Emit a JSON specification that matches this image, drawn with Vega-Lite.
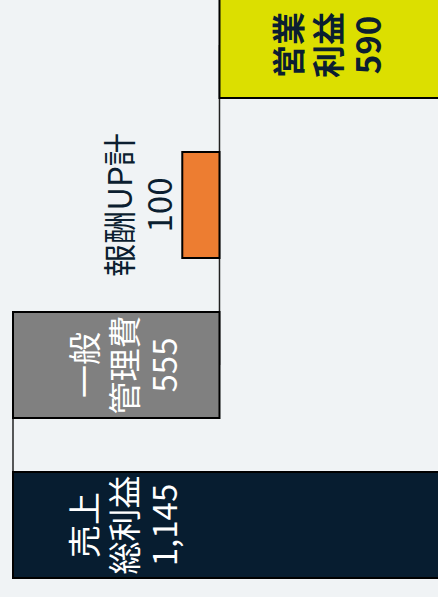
{
  "$schema": "https://vega.github.io/schema/vega-lite/v6.json",
  "width": 438,
  "height": 597,
  "padding": 0,
  "autosize": {"type": "none"},
  "background": "#f0f3f5",
  "config": {"view": {"stroke": null}},
  "datasets": {
    "steps": [
      {"item": "営業利益", "start": 0, "end": 590, "label": "営業\n利益\n590", "labelAt": 303},
      {"item": "報酬UP計", "start": 590, "end": 690, "label": "報酬UP計\n100", "labelAt": 808},
      {"item": "一般管理費", "start": 590, "end": 1145, "label": "一般\n管理費\n555", "labelAt": 851},
      {"item": "売上総利益", "start": 0, "end": 1145, "label": "売上\n総利益\n1,145", "labelAt": 851}
    ],
    "links": [
      {"at": 1145, "from": "一般管理費", "to": "売上総利益"},
      {"at": 590, "from": "営業利益", "to": "一般管理費"}
    ]
  },
  "layer": [
    {
      "data": {"name": "links"},
      "mark": {"type": "rule", "color": "#222222", "strokeWidth": 1.5},
      "encoding": {
        "x": {"field": "at", "type": "quantitative", "axis": null,
              "scale": {"domain": [0, 1145], "range": [439, 13], "nice": false, "zero": false}},
        "y": {"field": "from", "type": "nominal", "axis": null,
              "scale": {"domain": ["営業利益", "報酬UP計", "一般管理費", "売上総利益"], "range": [-35, 605], "paddingInner": 0.3375, "paddingOuter": 0.16875}},
        "y2": {"field": "to"}
      }
    },
    {
      "data": {"name": "steps"},
      "mark": {"type": "bar", "stroke": "#000000", "strokeWidth": 2},
      "encoding": {
        "x": {"field": "start", "type": "quantitative", "axis": null},
        "x2": {"field": "end"},
        "y": {"field": "item", "type": "nominal", "axis": null},
        "color": {"field": "item", "type": "nominal", "legend": null,
                  "scale": {"domain": ["営業利益", "報酬UP計", "一般管理費", "売上総利益"], "range": ["#dcdf00", "#ed7d31", "#808080", "#071d30"]}}
      }
    },
    {
      "data": {"name": "steps"},
      "transform": [{"filter": "datum.item === '一般管理費' || datum.item === '売上総利益'"}],
      "mark": {"type": "text", "angle": 270, "align": "center", "baseline": "middle", "dy": -35, "lineBreak": "\n", "font": "Noto Sans CJK JP", "fontSize": 33, "fontWeight": "normal", "lineHeight": 40, "color": "#ffffff"},
      "encoding": {
        "x": {"field": "labelAt", "type": "quantitative"},
        "y": {"field": "item", "type": "nominal"},
        "text": {"field": "label"}
      }
    },
    {
      "data": {"name": "steps"},
      "transform": [{"filter": "datum.item === '報酬UP計'"}],
      "mark": {"type": "text", "angle": 270, "align": "center", "baseline": "middle", "dy": -16, "lineBreak": "\n", "font": "Noto Sans CJK JP", "fontSize": 33, "lineHeight": 40, "color": "#0b1e30"},
      "encoding": {
        "x": {"field": "labelAt", "type": "quantitative"},
        "y": {"field": "item", "type": "nominal"},
        "text": {"field": "label"}
      }
    },
    {
      "data": {"name": "steps"},
      "transform": [{"filter": "datum.item === '営業利益'"}],
      "mark": {"type": "text", "angle": 270, "align": "center", "baseline": "middle", "dy": -35, "lineBreak": "\n", "font": "Noto Sans CJK JP", "fontSize": 33, "fontWeight": "bold", "lineHeight": 40, "color": "#0b1e30"},
      "encoding": {
        "x": {"field": "labelAt", "type": "quantitative"},
        "y": {"field": "item", "type": "nominal"},
        "text": {"field": "label"}
      }
    }
  ]
}
